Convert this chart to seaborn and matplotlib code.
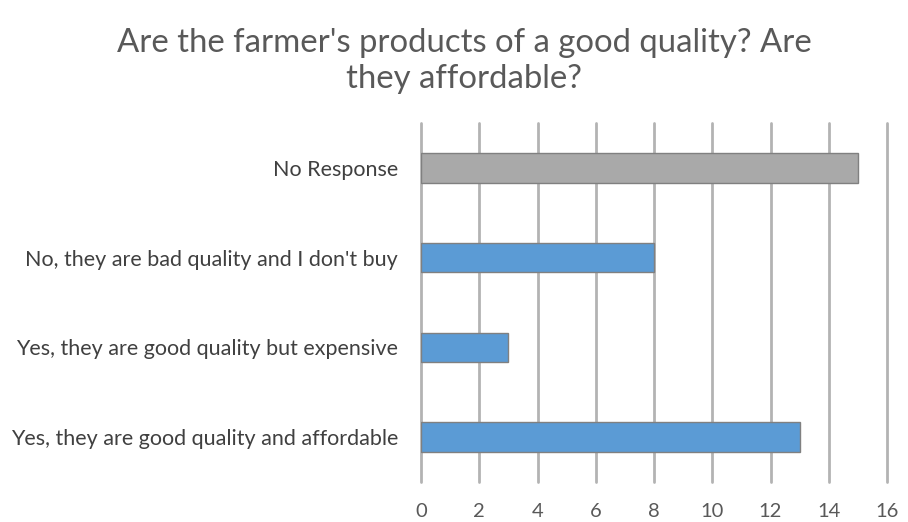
import matplotlib
matplotlib.use("Agg")
import matplotlib.pyplot as plt
import seaborn as sns
import pandas as pd

categories = [
    "No Response",
    "No, they are bad quality and I don't buy",
    "Yes, they are good quality but expensive",
    "Yes, they are good quality and affordable",
]
counts = [15, 8, 3, 13]
bar_colors = ["#a9a9a9", "#5b9bd5", "#5b9bd5", "#5b9bd5"]
x_ticks = [0, 2, 4, 6, 8, 10, 12, 14, 16]

df = pd.DataFrame({"category": categories, "count": counts})

sns.set_theme(style="white")
plt.rcParams["font.family"] = ["Lato", "DejaVu Sans"]

fig = plt.figure(figsize=(9.08, 5.22), dpi=100)
ax = fig.add_axes([0.4637, 0.0766, 0.5132, 0.6878])

sns.barplot(
    data=df, y="category", x="count", hue="category",
    palette=dict(zip(categories, bar_colors)), order=categories,
    orient="h", width=0.33, legend=False, ax=ax, saturation=1,
    edgecolor="#808080", linewidth=1.0, zorder=3,
)

ax.set_xlim(0, 16)
ax.set_ylim(3.5, -0.5)
ax.set_xticks(x_ticks)
ax.set_xticklabels([str(t) for t in x_ticks])
for t in x_ticks:
    ax.axvline(t, color="#b3b3b3", linewidth=2.0, zorder=1, clip_on=False)
ax.grid(False)
for s in ax.spines.values():
    s.set_visible(False)
ax.set_xlabel("")
ax.set_ylabel("")
ax.tick_params(axis="x", length=0, pad=15, labelsize=14.5, labelcolor="#595959")
ax.tick_params(axis="y", length=0, pad=16.5, labelsize=15.5, labelcolor="#404040")

fig.text(0.511, 0.883, "Are the farmer's products of a good quality? Are\nthey affordable?",
         ha="center", va="center", fontsize=23.7, color="#595959", linespacing=1.22)

fig.savefig("out.png", dpi=100, facecolor="white")
